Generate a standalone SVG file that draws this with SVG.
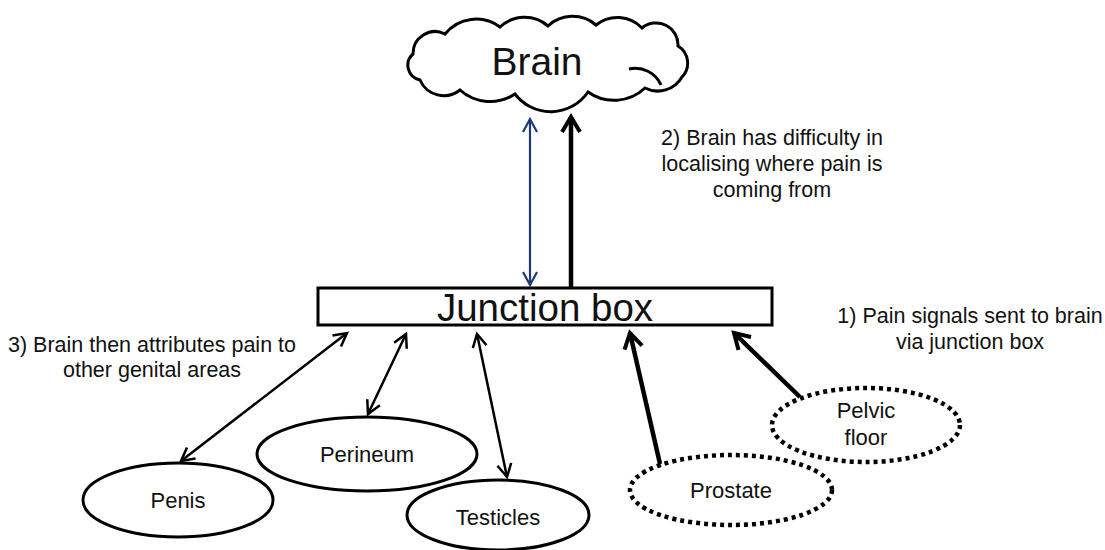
<svg xmlns="http://www.w3.org/2000/svg" width="1105" height="550" viewBox="0 0 1105 550">
<style>
  text { font-family: "Liberation Sans", Arial, sans-serif; fill: #111; text-anchor: middle; }
  .lbl { font-size: 22px; }
  .note { font-size: 21.5px; }
  .shape { fill: #fff; stroke: #000; stroke-width: 3; }
  .dotted { fill: #fff; stroke: #000; stroke-width: 4.5; stroke-dasharray: 4 4; }
  .thin { stroke: #000; stroke-width: 2.5; fill: none; }
  .thick { stroke: #000; stroke-width: 4.5; fill: none; }
  .blue { stroke: #1b3a78; stroke-width: 2.2; fill: none; }
</style>
<defs>
  <marker id="hThin" viewBox="0 0 20 20" refX="17" refY="10" markerWidth="20" markerHeight="20" markerUnits="userSpaceOnUse" orient="auto-start-reverse">
    <path d="M4,3 L17,10 L4,17" fill="none" stroke="#000" stroke-width="2.5"/>
  </marker>
  <marker id="hBlue" viewBox="0 0 20 20" refX="17" refY="10" markerWidth="20" markerHeight="20" markerUnits="userSpaceOnUse" orient="auto-start-reverse">
    <path d="M4,3 L17,10 L4,17" fill="none" stroke="#1b3a78" stroke-width="2.2"/>
  </marker>
  <marker id="hThick" viewBox="0 0 24 24" refX="20" refY="12" markerWidth="24" markerHeight="24" markerUnits="userSpaceOnUse" orient="auto-start-reverse">
    <path d="M5,3 L20,12 L5,21" fill="none" stroke="#000" stroke-width="4"/>
  </marker>
</defs>

<g id="connectors">
  <line class="blue" x1="530" y1="119" x2="530" y2="285" marker-start="url(#hBlue)" marker-end="url(#hBlue)"/>
  <line class="thick" x1="571" y1="287" x2="571" y2="117" marker-end="url(#hThick)"/>
  <line class="thin" x1="181" y1="461" x2="347" y2="333" marker-start="url(#hThin)" marker-end="url(#hThin)"/>
  <line class="thin" x1="368" y1="414" x2="406" y2="334" marker-start="url(#hThin)" marker-end="url(#hThin)"/>
  <line class="thin" x1="507" y1="477" x2="477" y2="334" marker-start="url(#hThin)" marker-end="url(#hThin)"/>
  <line class="thick" x1="660" y1="464" x2="630" y2="333" marker-end="url(#hThick)"/>
  <line class="thick" x1="800" y1="397" x2="734" y2="333" marker-end="url(#hThick)"/>
</g>

<g id="brain">
  <path class="shape" d="M420,80 A15,15 0 0 1 413,54 A22,22 0 0 1 445,34 A40,40 0 0 1 500,27 A36,36 0 0 1 548,26 A36,36 0 0 1 596,25 A34,34 0 0 1 642,28 A22,22 0 0 1 678,46 A20,20 0 0 1 682,77 A28,28 0 0 1 645,88 A45,45 0 0 1 588,92 A45,45 0 0 1 515,94 A45,45 0 0 1 460,90 A26,26 0 0 1 420,80 Z"/>
  <path d="M629,69 A28,28 0 0 1 661,85" fill="none" stroke="#000" stroke-width="3"/>
  <text x="537" y="75" style="font-size:39px">Brain</text>
</g>

<g id="junction">
  <rect class="shape" x="318" y="288" width="454" height="37"/>
  <text x="545" y="321" style="font-size:38.5px">Junction box</text>
</g>

<g id="penis">
  <ellipse class="shape" cx="178" cy="500" rx="95" ry="37"/>
  <text class="lbl" x="178" y="508">Penis</text>
</g>

<g id="perineum">
  <ellipse class="shape" cx="367" cy="454" rx="110" ry="37"/>
  <text class="lbl" x="367" y="462">Perineum</text>
</g>

<g id="testicles">
  <ellipse class="shape" cx="498" cy="515" rx="91" ry="35"/>
  <text class="lbl" x="498" y="525">Testicles</text>
</g>

<g id="prostate">
  <ellipse class="dotted" cx="731" cy="490" rx="101" ry="35"/>
  <text class="lbl" x="731" y="498">Prostate</text>
</g>

<g id="pelvic">
  <ellipse class="dotted" cx="866" cy="425" rx="94" ry="37"/>
  <text class="lbl" x="866" y="418">Pelvic</text>
  <text class="lbl" x="866" y="445">floor</text>
</g>

<g id="notes">
  <text class="note" x="772" y="145">2) Brain has difficulty in</text>
  <text class="note" x="772" y="171">localising where pain is</text>
  <text class="note" x="772" y="197">coming from</text>
  <text class="note" x="970" y="323">1) Pain signals sent to brain</text>
  <text class="note" x="970" y="349">via junction box</text>
  <text class="note" x="152" y="352">3) Brain then attributes pain to</text>
  <text class="note" x="152" y="377">other genital areas</text>
</g>
</svg>
